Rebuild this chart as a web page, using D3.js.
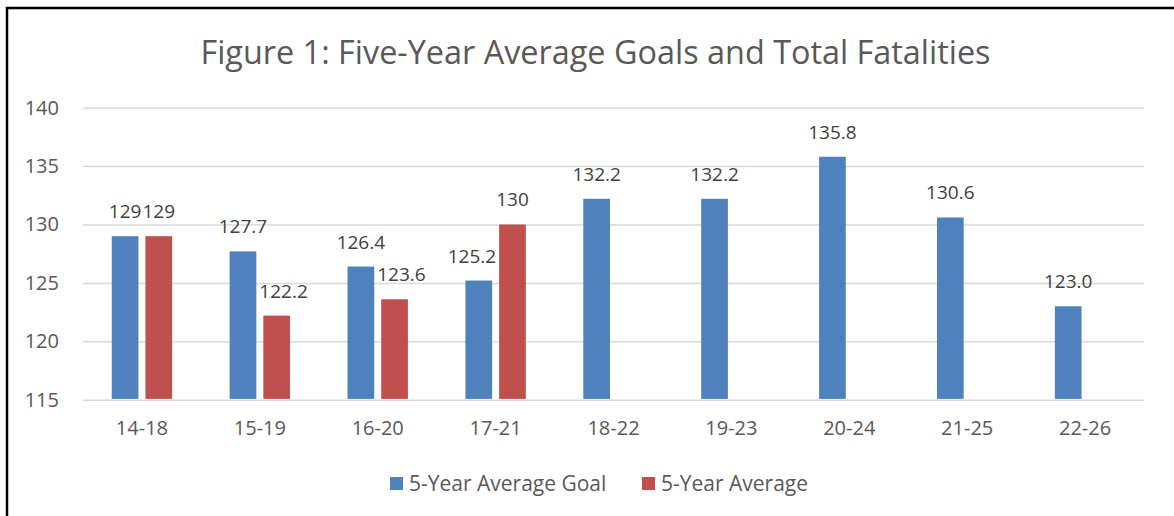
<!DOCTYPE html>
<html>
<head>
<meta charset="utf-8">
<style>
  body { margin: 0; background: #fff; }
  svg text { font-family: "Open Sans", Lato, sans-serif; }
  .grid line { stroke: #d9d9d9; stroke-width: 1.5px; }
  .grid path { display: none; }
  .tick text { fill: #595959; }
</style>
</head>
<body>
<svg width="1174" height="516"></svg>
<script src="https://cdnjs.cloudflare.com/ajax/libs/d3/7.8.5/d3.min.js"></script>
<script>

var periods = ["14-18", "15-19", "16-20", "17-21", "18-22", "19-23", "20-24", "21-25", "22-26"];
var goalValues = [129, 127.7, 126.4, 125.2, 132.2, 132.2, 135.8, 130.6, 123.0];
var goalLabels = ["129", "127.7", "126.4", "125.2", "132.2", "132.2", "135.8", "130.6", "123.0"];
var avgValues = [129, 122.2, 123.6, 130, null, null, null, null, null];
var avgLabels = ["129", "122.2", "123.6", "130", "", "", "", "", ""];
var yTicks = [115, 120, 125, 130, 135, 140];
var seriesNames = ["5-Year Average Goal", "5-Year Average"];
var colors = ["#4f81bd", "#c0504d"];

var svg = d3.select("svg"),
    margin = {top: 107.7, right: 30, bottom: 116.3, left: 83},
    width = 1144 - margin.left,
    height = 399.7 - margin.top;

// outer frame
svg.append("rect")
    .attr("x", 7).attr("y", 8)
    .attr("width", 1200).attr("height", 600)
    .attr("fill", "none")
    .attr("stroke", "#000")
    .attr("stroke-width", 2.5);

svg.append("text")
    .attr("x", 595.5)
    .attr("y", 64)
    .attr("text-anchor", "middle")
    .attr("fill", "#595959")
    .style("font-size", "32.4px")
    .text("Figure 1: Five-Year Average Goals and Total Fatalities");

var g = svg.append("g")
    .attr("transform", "translate(" + margin.left + "," + margin.top + ")");

var x = d3.scaleBand().domain(periods).range([0, width]);
var y = d3.scaleLinear().domain([115, 140]).range([height, 0]);

var barW = 26.7, gap = 7;

g.append("g")
    .attr("class", "grid")
    .call(d3.axisLeft(y).tickValues(yTicks).tickSize(-width).tickPadding(24))
    .selectAll("text")
    .style("font-size", "20px");

g.selectAll(".grid .tick line").attr("x1", 0);

var xAxis = g.append("g")
    .attr("transform", "translate(0," + height + ")")
    .call(d3.axisBottom(x).tickSize(0).tickPadding(21));
xAxis.select(".domain").remove();
xAxis.selectAll("text").style("font-size", "20px");

var series = [goalValues, avgValues];
var labels = [goalLabels, avgLabels];

function barCenter(p, s) {
  var offset = s === 0 ? -(barW + gap) / 2 : (barW + gap) / 2;
  return x(p) + x.bandwidth() / 2 + offset;
}

series.forEach(function(vals, s) {
  var other = series[1 - s];
  var data = periods.map(function(p, i) { return {p: p, v: vals[i], l: labels[s][i], o: other[i]}; })
      .filter(function(d) { return d.v != null; });

  g.selectAll(".bar" + s)
    .data(data)
    .enter().append("rect")
      .attr("x", function(d) { return barCenter(d.p, s) - barW / 2; })
      .attr("y", function(d) { return y(d.v); })
      .attr("width", barW)
      .attr("height", function(d) { return height - y(d.v) - 0.8; })
      .attr("fill", colors[s]);

  g.selectAll(".lab" + s)
    .data(data)
    .enter().append("text")
      .attr("x", function(d) { return barCenter(d.p, s); })
      .attr("y", function(d) { return y(d.v) - 18; })
      .attr("text-anchor", "middle")
      .attr("fill", "#404040")
      .style("font-size", "19px")
      .text(function(d) { return d.l; })
      .each(function(d) {
        // nudge label sideways when it would run into the taller neighbour bar
        if (d.o == null || y(d.o) > y(d.v) - 18) return;
        var w = this.getComputedTextLength(), cx = barCenter(d.p, s), nx;
        if (s === 0) {
          var edge = barCenter(d.p, 1) - barW / 2 - 3;
          nx = Math.min(cx, edge - w / 2);
        } else {
          var edge2 = barCenter(d.p, 0) + barW / 2 + 3;
          nx = Math.max(cx, edge2 + w / 2);
        }
        d3.select(this).attr("x", nx);
      });
});

// legend
var legendX = [390, 642];
seriesNames.forEach(function(name, i) {
  svg.append("rect")
      .attr("x", legendX[i]).attr("y", 477)
      .attr("width", 13).attr("height", 13)
      .attr("fill", colors[i]);
  svg.append("text")
      .attr("x", legendX[i] + 19)
      .attr("y", 491)
      .attr("fill", "#595959")
      .style("font-size", "21px")
      .text(name);
});

</script>
</body>
</html>
